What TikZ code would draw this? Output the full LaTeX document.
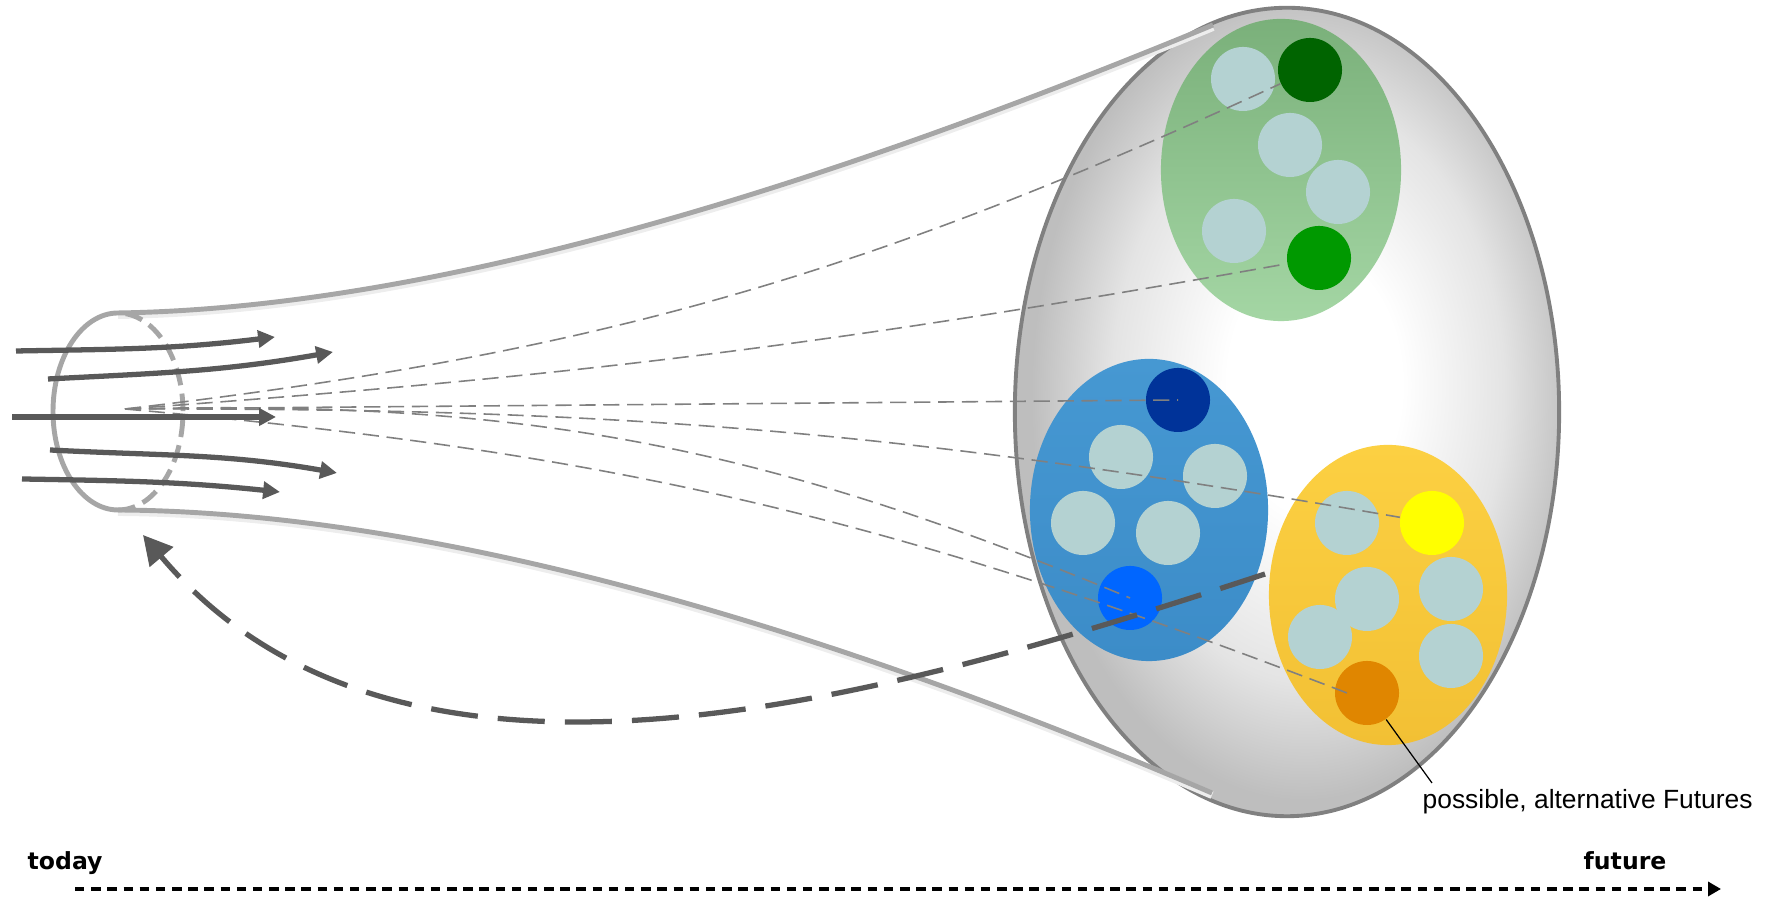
\documentclass[tikz,border=0pt]{standalone}
\usepackage{xcolor}
\usepackage{fontspec}
\usepackage{tikz}
\usetikzlibrary{arrows.meta, shapes.geometric}
\newfontfamily\notefont{Liberation Sans}
\newfontfamily\axisfont{DejaVu Sans}
\definecolor{arrowgray}{RGB}{89,89,89}
\definecolor{funnelgray}{RGB}{166,166,166}
\definecolor{rimgray}{RGB}{128,128,128}
\definecolor{fangray}{RGB}{128,128,128}
\definecolor{lightdot}{RGB}{180,210,210}
\definecolor{greentop}{RGB}{122,176,122}
\definecolor{greenbot}{RGB}{164,214,164}
\definecolor{bluetop}{RGB}{70,152,210}
\definecolor{bluebot}{RGB}{60,140,200}
\definecolor{yellowtop}{RGB}{252,208,66}
\definecolor{yellowbot}{RGB}{242,192,52}
\definecolor{darkgreen}{RGB}{0,100,0}
\definecolor{midgreen}{RGB}{0,153,0}
\definecolor{darkblue}{RGB}{0,51,153}
\definecolor{brightblue}{RGB}{0,102,255}
\definecolor{sunyellow}{RGB}{255,255,0}
\definecolor{deeporange}{RGB}{224,134,0}
\definecolor{conemid}{RGB}{228,228,228}
\definecolor{coneedge}{RGB}{190,190,190}
\pgfdeclareradialshading{conelight}{\pgfpoint{3bp}{2bp}}{color(0bp)=(white); color(8bp)=(white); color(18bp)=(conemid); color(25bp)=(coneedge); color(50bp)=(coneedge)}

\begin{document}
\begin{tikzpicture}[
        x=0.01cm, y=0.01cm,
        cluster/.style={ellipse, inner sep=0pt, minimum width=2.38cm, minimum height=3.02cm},
        dot/.style={circle, inner sep=0pt, minimum size=0.64cm},
        pale/.style={dot, fill=lightdot},
        funnel/.style={draw=funnelgray, line width=1.4pt},
        funnelshadow/.style={draw=black!7, line width=2.2pt, transform canvas={yshift=-0.6pt}},
        fan/.style={draw=fangray, line width=0.45pt, dash pattern=on 4.6pt off 2.2pt},
        flow/.style={draw=arrowgray, line width=1.5pt, -{Triangle[length=4.8pt, width=4.8pt]}},
        backflow/.style={draw=arrowgray, line width=1.5pt, dash pattern=on 13.4pt off 5.7pt,
            -{Triangle[length=8.2pt, width=8.5pt]}},
        timeline/.style={draw=black, line width=0.9pt, dash pattern=on 2.7pt off 1.9pt,
            -{Triangle[length=3.7pt, width=4pt]}},
        axislabel/.style={anchor=base west, inner sep=0pt, font=\axisfont\bfseries\fontsize{6.7}{8}\selectfont}
    ]
        \useasboundingbox (0,0) rectangle (1772,898);

        \node[ellipse, draw=rimgray, line width=1.1pt, inner sep=0pt, shading=conelight,
            minimum width=5.44cm, minimum height=8.08cm] (cone) at (1287,486) {};

        \node[cluster, top color=greentop, bottom color=greenbot, minimum width=2.4cm] (greenset) at (1281,728) {};
        \node[cluster, top color=bluetop, bottom color=bluebot] (blueset) at (1149,388) {};
        \node[cluster, top color=yellowtop, bottom color=yellowbot, minimum height=3cm] (yellowset) at (1388,303) {};

        \node[pale] at (1243,819) {};
        \node[pale] at (1290,753) {};
        \node[pale] at (1338,706) {};
        \node[pale] at (1234,667) {};
        \node[dot, fill=darkgreen] (dgdot) at (1310,828) {};
        \node[dot, fill=midgreen] (gdot) at (1319,640) {};

        \node[dot, fill=darkblue] (dbdot) at (1178,498) {};
        \node[pale] at (1121,441) {};
        \node[pale] at (1215,422) {};
        \node[pale] at (1083,375) {};
        \node[pale] at (1168,365) {};
        \node[dot, fill=brightblue] (bbdot) at (1130,300) {};

        \node[pale] at (1347,375) {};
        \node[dot, fill=sunyellow] (ydot) at (1432,375) {};
        \node[pale] at (1367,299) {};
        \node[pale] at (1451,309) {};
        \node[pale] at (1320,261) {};
        \node[pale] at (1451,242) {};
        \node[dot, fill=deeporange] (odot) at (1367,205) {};

        \coordinate (rimtop) at (118,585);
        \coordinate (rimbot) at (118,388);
        \coordinate (conetop) at (1213,873);
        \coordinate (conebot) at (1212,105);
        \draw[funnelshadow] (rimtop) .. controls (450,590) and (850,723) .. (conetop);
        \draw[funnelshadow] (rimbot) .. controls (450,386) and (850,260) .. (conebot);
        \draw[funnel] (rimtop) .. controls (450,590) and (850,723) .. (conetop);
        \draw[funnel] (rimbot) .. controls (450,386) and (850,260) .. (conebot);
        \draw[funnel] (rimtop) arc[start angle=90, end angle=270, x radius=65, y radius=98.5];
        \draw[funnel, dash pattern=on 5pt off 2.4pt] (rimbot) arc[start angle=-90, end angle=90, x radius=65, y radius=98.5];

        \coordinate (src) at (125,489);
        \draw[fan] (src) to[bend right=9] (dgdot);
        \draw[fan] (src) to[bend right=3] (gdot);
        \draw[fan] (src) -- (dbdot.center);
        \draw[fan] (src) to[bend left=5] (ydot);
        \draw[fan] (src) to[bend left=12] (bbdot.center);
        \draw[fan] (src) to[bend left=8] ([xshift=-0.2cm]odot.center);

        \foreach \n/\sx/\sy/\ex/\ey/\o/\i in {1/16/547/275/561/1/187, 2/48/519/333/546/3/190,
            3/12/481/276/481/0/180, 4/50/448/337/425/-3/170, 5/22/419/280/406/-1/174} {
            \coordinate (s\n) at (\sx,\sy);
            \coordinate (e\n) at (\ex,\ey);
            \draw[flow] (s\n) to[out=\o, in=\i] (e\n);
        }

        \coordinate (back) at (1265,324);
        \coordinate (now) at (143,363);
        \draw[backflow] (back) .. controls (880,198) and (400,58) .. (now);

        \node[anchor=base west, inner sep=0pt, font=\notefont\fontsize{7.5}{9}\selectfont] (futlabel) at (1422,89) {possible, alternative Futures};
        \coordinate (leadend) at (1432,115);
        \draw[black, line width=0.35pt] (odot) -- (leadend);

        \node[axislabel] (today) at (27,28) {today};
        \node[axislabel] (future) at (1583,28) {future};
        \coordinate (tstart) at (75,9);
        \coordinate (tend) at (1721,9);
        \draw[timeline] (tstart) -- (tend);
    \end{tikzpicture}
\end{document}
